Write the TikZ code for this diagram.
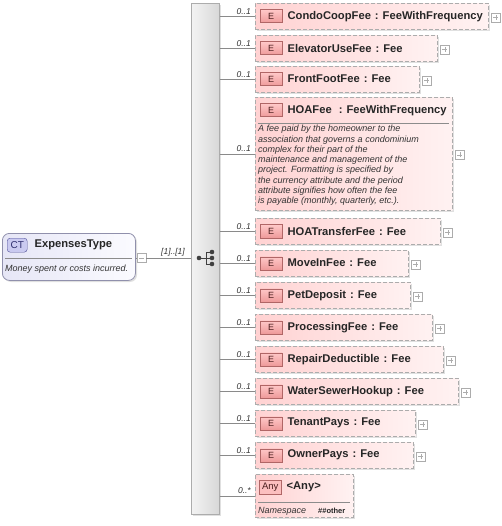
\documentclass[tikz,border=0pt]{standalone}
\usepackage{fontspec}
\setmainfont{Liberation Sans}
\definecolor{elL}{HTML}{FFD2D2}
\definecolor{elR}{HTML}{FFF2F2}
\definecolor{elB}{HTML}{ACACAC}
\definecolor{bdgT}{HTML}{FFC8C8}
\definecolor{bdgB}{HTML}{EE9A9A}
\definecolor{bdgD}{HTML}{B06666}
\definecolor{bdgTx}{HTML}{4A1E1E}
\definecolor{shd}{HTML}{E0E0E0}
\definecolor{conc}{HTML}{8A8A8A}
\definecolor{ctL}{HTML}{E6E6F6}
\definecolor{ctR}{HTML}{FBFBFF}
\definecolor{ctB}{HTML}{9090AC}
\definecolor{ctbF}{HTML}{CACAF0}
\definecolor{ctbD}{HTML}{505098}
\definecolor{ctbTx}{HTML}{2E2E6E}
\definecolor{seqL}{HTML}{F3F3F3}
\definecolor{seqR}{HTML}{D8D8D8}
\definecolor{iconc}{HTML}{404040}
\tikzset{
  elbox/.style={draw=elB, dash pattern=on 4pt off 2pt, line width=0.8pt, left color=elL, right color=elR, inner sep=0pt},
  ebadge/.style={draw=bdgD, top color=bdgT, bottom color=bdgB, minimum width=22pt, minimum height=13pt, inner sep=0pt, font=\fontsize{9}{10}\selectfont, text=bdgTx},
  ttl/.style={font=\fontsize{11.2}{13}\selectfont\bfseries, text=black!85, inner sep=0pt, anchor=west},
  doc/.style={font=\fontsize{9}{10.3}\selectfont\itshape, text=black!80, inner sep=0pt, align=left},
  card/.style={font=\fontsize{8.5}{10}\selectfont\itshape, text=black!80, inner sep=0pt},
  plusbox/.style={draw=elB, fill=white, minimum size=9pt, inner sep=0pt},
  conn/.style={draw=conc, line width=0.7pt},
  sepline/.style={draw=black!45, line width=0.7pt},
}
\newcommand\tsep{\hspace{4pt}:\hspace{4pt}}
\newcommand\elrow[6]{%
  \fill[shd] (257,#2+2) rectangle (#3+2,#2+28);
  \node[elbox, minimum width={#3-255}, minimum height=26pt, anchor=north west] (#1) at (255,#2) {};
  \node[ebadge, anchor=north west] (#1b) at ([xshift=5pt,yshift=-6.5pt]#1.north west) {E};
  \node[ttl] (#1t) at ([xshift=5pt]#1b.east) {#4\tsep #5};
  \node[plusbox] (#1p) at ([xshift=7pt,yshift=-1pt]#1.east) {};
  \draw[elB] ([xshift=-2.5pt]#1p.center) -- ([xshift=2.5pt]#1p.center) ([yshift=-2.5pt]#1p.center) -- ([yshift=2.5pt]#1p.center);
  \draw[conn] (seq.east |- #1.west) -- (#1.west);
  \node[card, anchor=south east] (#1c) at ([xshift=-4pt,yshift=2pt]#1.west) {#6};
}
\begin{document}
\begin{tikzpicture}[x=1pt,y=-1pt]
\useasboundingbox (0,0) rectangle (501,526);
% sequence bar
\fill[shd] (193,5) rectangle (221,516);
\node[draw=elB, line width=0.7pt, left color=seqL, right color=seqR, minimum width=28pt, minimum height=511pt, anchor=north west, inner sep=0pt] (seq) at (191,3) {};
% sequence icon
\coordinate (si) at (205,258);
\fill[iconc] (199,258) circle (2.3pt);
\draw[iconc, line width=0.9pt] (199,258) -- (206,258) (206,252) -- (206,264)
  (206,252) -- (212,252) (206,258) -- (212,258) (206,264) -- (212,264);
\fill[iconc] (212,252) circle (2.3pt) (212,258) circle (2.3pt) (212,264) circle (2.3pt);
% complex type
\fill[shd, rounded corners=7pt] (4,235) rectangle (137,282);
\node[draw=ctB, line width=0.8pt, rounded corners=7pt, left color=ctL, right color=ctR, minimum width=133pt, minimum height=47pt, anchor=north west, inner sep=0pt] (ct) at (2,233) {};
\node[draw=ctbD, fill=ctbF, rounded corners=3pt, minimum width=20pt, minimum height=14pt, inner sep=0pt, anchor=north west, font=\fontsize{10}{12}\selectfont, text=ctbTx] (ctb) at (7,238) {CT};
\node[ttl] (ctt) at ([xshift=7pt]ctb.east) {ExpensesType};
\draw[sepline] (5,258) -- (132,258);
\node[doc, anchor=west] (ctd) at (5,269) {Money spent or costs incurred.};
\node[plusbox] (ctm) at (141.5,258) {};
\draw[elB] ([xshift=-2.5pt]ctm.center) -- ([xshift=2.5pt]ctm.center);
\draw[conn] (ct.east |- ctm) -- (ctm.west);
\draw[conn] (ctm.east) -- (seq.west |- ctm);
\node[card, anchor=south] (seql) at (173,256) {[1]..[1]};
% elements
\elrow{e1}{3}{488}{CondoCoopFee}{FeeWithFrequency}{0..1}
\elrow{e2}{35}{437}{ElevatorUseFee}{Fee}{0..1}
\elrow{e3}{66}{419}{FrontFootFee}{Fee}{0..1}
% HOAFee
\fill[shd] (257,99) rectangle (454,212);
\node[elbox, minimum width=197pt, minimum height=113pt, anchor=north west] (hoa) at (255,97) {};
\node[ebadge, anchor=north west] (hoab) at (260,103.5) {E};
\node[ttl] (hoat) at ([xshift=5pt]hoab.east) {HOAFee\hspace{3pt}\tsep FeeWithFrequency};
\draw[sepline] (258,123) -- (449,123);
\node[doc, anchor=north west] (hoad) at (258,125) {A fee paid by the homeowner to the\\association that governs a condominium\\complex for their part of the\\maintenance and management of the\\project. Formatting is specified by\\the currency attribute and the period\\attribute signifies how often the fee\\is payable (monthly, quarterly, etc.).};
\node[plusbox] (hoap) at ([xshift=7pt,yshift=-1pt]hoa.east) {};
\draw[elB] ([xshift=-2.5pt]hoap.center) -- ([xshift=2.5pt]hoap.center) ([yshift=-2.5pt]hoap.center) -- ([yshift=2.5pt]hoap.center);
\draw[conn] (seq.east |- hoa.west) -- (hoa.west);
\node[card, anchor=south east] (hoac) at ([xshift=-4pt,yshift=2pt]hoa.west) {0..1};
\elrow{e5}{218}{440}{HOATransferFee}{Fee}{0..1}
\elrow{e6}{250}{408}{MoveInFee}{Fee}{0..1}
\elrow{e7}{282}{410}{PetDeposit}{Fee}{0..1}
\elrow{e8}{314}{432}{ProcessingFee}{Fee}{0..1}
\elrow{e9}{346}{443}{RepairDeductible}{Fee}{0..1}
\elrow{e10}{378}{458}{WaterSewerHookup}{Fee}{0..1}
\elrow{e11}{410}{415}{TenantPays}{Fee}{0..1}
\elrow{e12}{442}{413}{OwnerPays}{Fee}{0..1}
% any
\fill[shd] (257,476) rectangle (355,519);
\node[elbox, minimum width=98pt, minimum height=43pt, anchor=north west] (any) at (255,474) {};
\node[draw=bdgD, fill=bdgT!80!bdgB, minimum width=22pt, minimum height=14pt, inner sep=0pt, anchor=north west, font=\fontsize{9.5}{11}\selectfont, text=bdgTx] (anyb) at (259,480) {Any};
\node[ttl] (anyt) at ([xshift=5pt]anyb.east) {<Any>};
\draw[sepline] (258,502) -- (350,502);
\node[doc, anchor=west] (anyn) at (258,511) {Namespace};
\node[font=\fontsize{7.5}{9}\selectfont\bfseries, text=black!85, anchor=west, inner sep=0pt] (anyv) at (318,511) {\#\#other};
\draw[conn] (seq.east |- any.west) -- (any.west);
\node[card, anchor=south east] (anyc) at ([xshift=-4pt,yshift=2pt]any.west) {0..*};
\end{tikzpicture}
\end{document}
